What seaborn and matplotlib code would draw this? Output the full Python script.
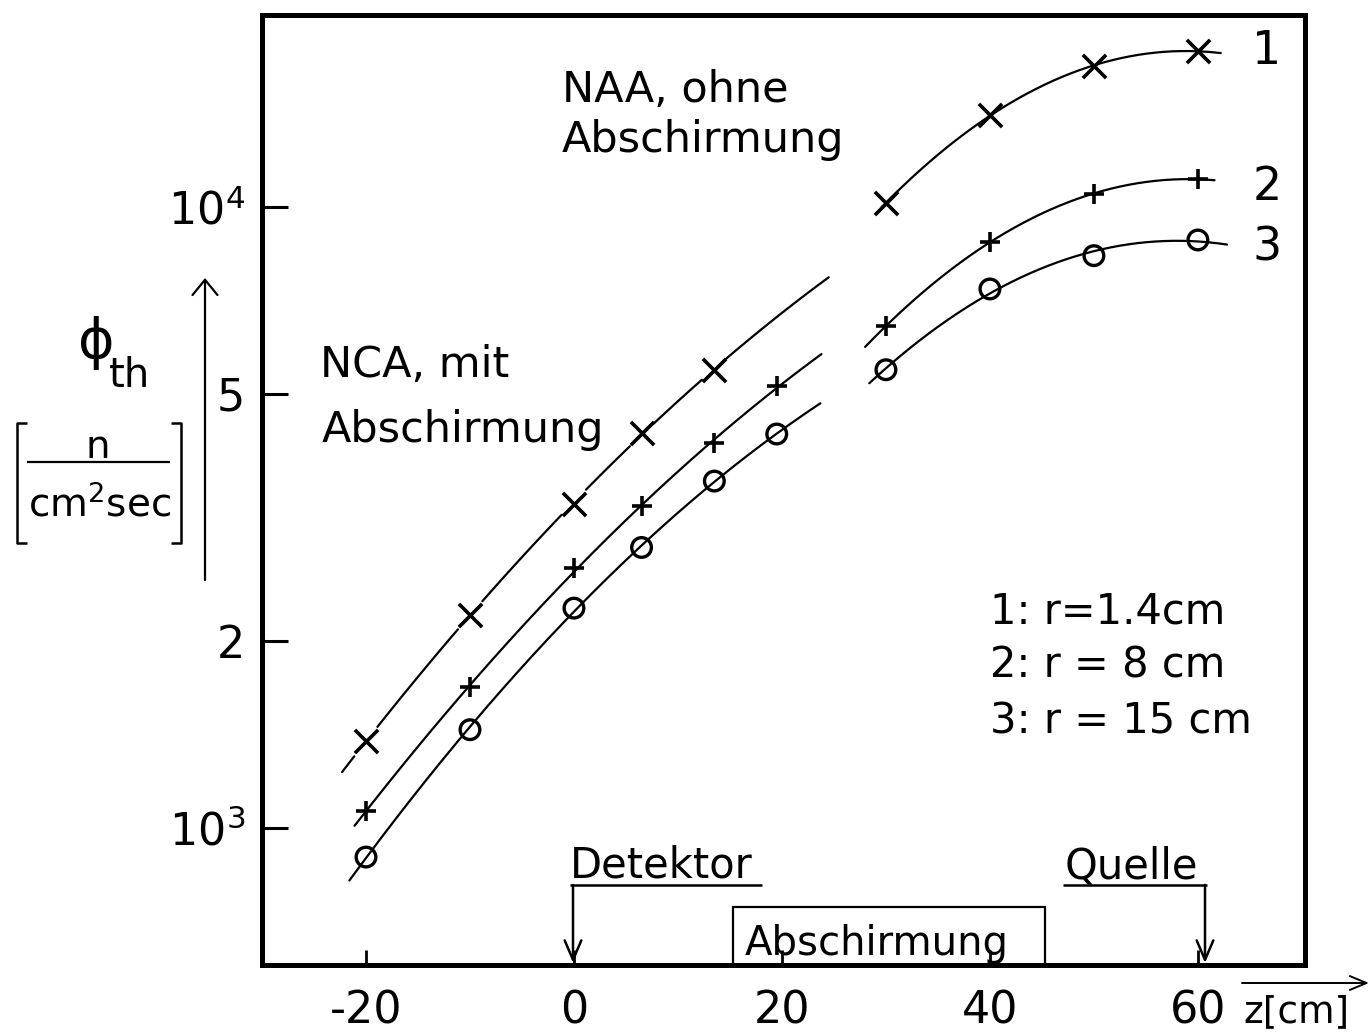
import numpy as np
import pandas as pd
import matplotlib
matplotlib.use("Agg")
import matplotlib.pyplot as plt
from matplotlib.lines import Line2D
from matplotlib.patches import Rectangle
from matplotlib.ticker import NullLocator
import seaborn as sns

# ---------------- data ----------------
z_nca = [-20, -10, 0, 6.5, 13.5, 19.5]
z_naa = [30, 40, 50, 60]
phi1_nca = [1380, 2200, 3330, 4330, 5470]          # 1: r = 1.4 cm
phi2_nca = [1065, 1690, 2620, 3300, 4170, 5150]    # 2: r = 8 cm
phi3_nca = [898, 1440, 2260, 2830, 3620, 4310]     # 3: r = 15 cm
phi1_naa = [10150, 14060, 16870, 17830]
phi2_naa = [6430, 8790, 10500, 11090]
phi3_naa = [5470, 7380, 8350, 8850]
series_names = ["1", "2", "3"]
legend_lines = ["1: r=1.4cm", "2: r = 8 cm", "3: r = 15 cm"]
nca_span = [(-22.3, 24.5), (-21.1, 23.8), (-21.6, 23.7)]
naa_span = [(29.6, 62.2), (28.0, 61.6), (28.4, 62.8)]
xticks = [-20, 0, 20, 40, 60]
xticklabels = ["-20", "0", "20", "40", "60"]
yticks = [1e3, 2e3, 5e3, 1e4]
yticklabels = [r"$\mathregular{10^3}$", "2", "5", r"$\mathregular{10^4}$"]

W, H = 1370, 1035

sns.set_theme(style="white")
plt.rcParams["font.family"] = ["DejaVu Sans"]
plt.rcParams["mathtext.fontset"] = "dejavusans"

fig = plt.figure(figsize=(W / 100, H / 100), dpi=100)
ax = fig.add_axes([262 / W, 1 - 965 / H, 1043 / W, 950 / H])
ax.set_yscale("log")
ax.set_xlim(-30, 70.3)
ax.set_ylim(601.8, 20380)

# ---------------- fitted smooth curves ----------------
def curve(zs, phis, span, sid, seg, gap_at_markers=False):
    coef = np.polyfit(zs, np.log10(phis), 2)
    zz = np.linspace(span[0], span[1], 400)
    yy = 10 ** np.polyval(coef, zz)
    keep = np.ones_like(zz, dtype=bool)
    if gap_at_markers:
        for g in zs:
            keep &= np.abs(zz - g) > 1.1
    piece = np.cumsum(np.r_[0, (np.diff(keep.astype(int)) != 0).astype(int)])
    return pd.DataFrame({"z": zz[keep], "phi": yy[keep],
                         "unit": [f"{sid}-{seg}-{p}" for p in piece[keep]]})

nca_sets = [(z_nca[:5], phi1_nca), (z_nca, phi2_nca), (z_nca, phi3_nca)]
naa_sets = [(z_naa, phi1_naa), (z_naa, phi2_naa), (z_naa, phi3_naa)]

parts = []
for i in range(3):
    zs, ph = nca_sets[i]
    parts.append(curve(zs, ph, nca_span[i], i, "nca", gap_at_markers=(i == 0)))
    zs, ph = naa_sets[i]
    parts.append(curve(zs, ph, naa_span[i], i, "naa"))

df_lines = pd.concat(parts, ignore_index=True)
sns.lineplot(data=df_lines, x="z", y="phi", units="unit", estimator=None,
             color="black", linewidth=1.6, sort=False, ax=ax, legend=False)

# ---------------- markers ----------------
pts1 = pd.DataFrame({"z": z_nca[:5] + z_naa, "phi": phi1_nca + phi1_naa})
pts2 = pd.DataFrame({"z": z_nca + z_naa, "phi": phi2_nca + phi2_naa})
pts3 = pd.DataFrame({"z": z_nca + z_naa, "phi": phi3_nca + phi3_naa})
sns.scatterplot(data=pts1, x="z", y="phi", marker="x", s=280, color="black",
                linewidth=2.6, ax=ax, zorder=5, legend=False)
sns.scatterplot(data=pts2, x="z", y="phi", marker="+", s=200, color="black",
                linewidth=2.6, ax=ax, zorder=5, legend=False)
sns.scatterplot(data=pts3, x="z", y="phi", marker="o", s=200, color="black",
                facecolor="none", edgecolor="black", linewidth=2.4, ax=ax,
                zorder=5, legend=False)

# ---------------- axes styling ----------------
ax.set_xticks(xticks)
ax.set_xticklabels(xticklabels)
ax.set_yticks(yticks)
ax.set_yticklabels(yticklabels)
ax.yaxis.set_minor_locator(NullLocator())
ax.xaxis.set_minor_locator(NullLocator())
ax.tick_params(axis="y", direction="in", length=19, width=2.2, pad=12,
               labelsize=32, left=True, right=False, colors="black")
ax.tick_params(axis="x", direction="in", length=11, width=2.0, pad=18,
               labelsize=32, bottom=True, top=False, colors="black")
ax.set_xlabel("")
ax.set_ylabel("")
for sp in ax.spines.values():
    sp.set_visible(True)
    sp.set_linewidth(3.6)
    sp.set_color("black")
ax.grid(False)

# ---------------- helpers in reference pixel coordinates ----------------
def fx(x):
    return x / W

def fy(y):
    return 1 - y / H

def ftext(x, y, s, size=31, ha="left", va="baseline", **kw):
    fig.text(fx(x), fy(y), s, fontsize=size, ha=ha, va=va, color="black", **kw)

def fline(xs, ys, lw=1.6):
    fig.add_artist(Line2D([fx(v) for v in xs], [fy(v) for v in ys],
                          lw=lw, color="black", solid_capstyle="butt"))

def farrow(x0, y0, x1, y1, hl=0.7, hw=0.3, lw=1.6):
    fig.add_artist(matplotlib.patches.FancyArrowPatch(
        (fx(x0), fy(y0)), (fx(x1), fy(y1)), transform=fig.transFigure,
        arrowstyle=f"->,head_length={hl},head_width={hw}",
        mutation_scale=20, lw=lw, color="black", shrinkA=0, shrinkB=0))

# region labels
ftext(562, 102, "NAA, ohne")
ftext(562, 152, "Abschirmung")
ftext(320, 377, "NCA, mit")
ftext(322, 442, "Abschirmung")

# curve numbers
for name, yc in zip(series_names, [52, 187, 248]):
    ftext(1267, yc, name, size=33, ha="center", va="center")

# legend text
for line, yb in zip(legend_lines, [623, 678, 733]):
    ftext(990, yb, line, size=30)

# Detektor / Quelle / Abschirmung markers on the axis
ftext(570, 878, "Detektor", size=30)
fline([570, 762], [885, 885], lw=1.8)
farrow(573, 885, 573, 963, lw=1.8)
ftext(1065, 878, "Quelle", size=30)
fline([1063, 1207], [885, 885], lw=1.8)
farrow(1205, 885, 1205, 963, lw=1.8)
fig.add_artist(Rectangle((fx(733), fy(965)), fx(1045) - fx(733), fy(907) - fy(965),
                         transform=fig.transFigure, fill=False, lw=1.6,
                         edgecolor="black"))
ftext(745, 955, "Abschirmung", size=29)

# x-axis label with arrow
farrow(1242, 983, 1369, 983, hl=0.6, hw=0.25, lw=1.4)
ftext(1243, 1022, "z[cm]", size=27)

# y-axis label
ftext(96, 343, "\u03d5", size=40, ha="center", va="center")
ftext(130, 376, "th", size=29, ha="center", va="center")
ftext(98, 447, "n", size=28, ha="center", va="center")
fline([27, 170], [462, 462], lw=1.6)
ftext(100, 505, r"cm$\mathregular{^2}$sec", size=28, ha="center", va="center")
fline([27, 17, 17, 27], [423, 423, 543, 543], lw=1.8)
fline([171, 181, 181, 171], [423, 423, 543, 543], lw=1.8)
farrow(205, 580, 205, 278, hl=0.55, hw=0.45, lw=1.6)

fig.savefig("out.png", dpi=100, facecolor="white")
